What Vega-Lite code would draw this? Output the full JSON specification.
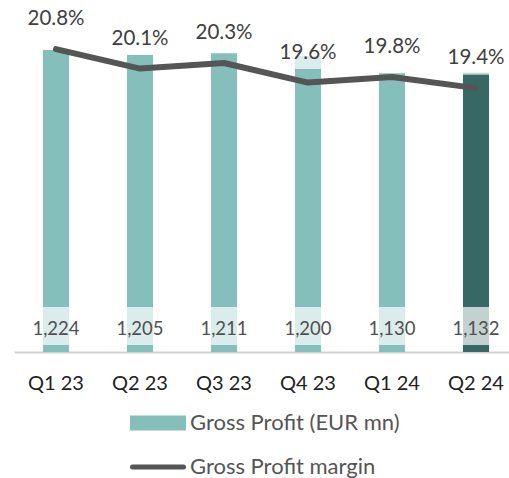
{
  "$schema": "https://vega.github.io/schema/vega-lite/v6.json",
  "width": 495,
  "height": 352,
  "autosize": {"type": "none"},
  "padding": {"left": 14, "top": 0, "right": 0, "bottom": 126},
  "config": {"view": {"stroke": null}, "font": "Lato"},
  "data": {"values": [
    {"q": "Q1 23", "gp": 1224, "margin": 0.208},
    {"q": "Q2 23", "gp": 1205, "margin": 0.201},
    {"q": "Q3 23", "gp": 1211, "margin": 0.203},
    {"q": "Q4 23", "gp": 1200, "margin": 0.196},
    {"q": "Q1 24", "gp": 1130, "margin": 0.198},
    {"q": "Q2 24", "gp": 1132, "margin": 0.194}
  ]},
  "encoding": {
    "x": {
      "field": "q", "type": "nominal", "sort": null,
      "scale": {"range": [0, 504], "paddingInner": 0, "paddingOuter": 0},
      "axis": {"title": null, "ticks": false, "labelAngle": 0, "labelFontSize": 20, "labelColor": "#222222", "labelPadding": 21, "domainColor": "#d3d3d3", "domainWidth": 2, "grid": false}
    }
  },
  "layer": [
    {
      "layer": [
        {
          "mark": {"type": "bar", "width": 26},
          "encoding": {
            "y": {"field": "gp", "type": "quantitative", "scale": {"domain": [0, 1427], "nice": false}, "axis": null},
            "color": {
              "datum": "Gross Profit (EUR mn)",
              "scale": {"domain": ["Gross Profit (EUR mn)", "Gross Profit margin"], "range": ["#84bfbb", "#555555"]},
              "condition": {"test": "datum.q === 'Q2 24'", "value": "#376866"},
              "legend": {
                "title": null, "orient": "none", "legendX": 116, "legendY": 395, "direction": "vertical",
                "labelFontSize": 22, "labelColor": "#555555", "labelFont": "Lato", "labelOffset": 4, "labelLimit": 0,
                "symbolSize": 2601, "rowPadding": -9,
                "encode": {
                  "symbols": {"update": {
                    "shape": {"signal": "datum.label === 'Gross Profit margin' ? 'M-1,0H1' : 'M-1,-0.2H1V0.2H-1Z'"},
                    "fill": {"signal": "datum.label === 'Gross Profit margin' ? 'transparent' : '#84bfbb'"},
                    "stroke": {"signal": "datum.label === 'Gross Profit margin' ? '#555555' : 'transparent'"},
                    "strokeWidth": {"value": 5},
                    "strokeCap": {"value": "round"},
                    "opacity": {"value": 1}
                  }}
                }
              }
            }
          }
        },
        {
          "mark": {"type": "bar", "width": 26, "color": "white", "opacity": 0.7},
          "encoding": {
            "y": {"datum": 182, "type": "quantitative"},
            "y2": {"datum": 28}
          }
        },
        {
          "mark": {"type": "text", "fontSize": 18.5, "color": "#505050", "baseline": "middle"},
          "encoding": {
            "y": {"datum": 93, "type": "quantitative"},
            "text": {"field": "gp", "type": "quantitative", "format": ","}
          }
        }
      ]
    },
    {
      "layer": [
        {
          "mark": {"type": "bar", "width": 34, "color": "white", "opacity": 0.7, "yOffset": -13.5, "y2Offset": -47},
          "encoding": {
            "y": {"field": "margin", "type": "quantitative", "scale": {"domain": [0.0994, 0.2256], "nice": false, "zero": false}, "axis": null},
            "y2": {"field": "margin"}
          }
        },
        {
          "mark": {"type": "line", "strokeWidth": 6, "strokeCap": "round", "strokeJoin": "round"},
          "encoding": {
            "y": {"field": "margin", "type": "quantitative"},
            "color": {"datum": "Gross Profit margin"}
          }
        },
        {
          "mark": {"type": "text", "fontSize": 20.5, "color": "#404040", "baseline": "middle", "dy": -30},
          "encoding": {
            "y": {"field": "margin", "type": "quantitative"},
            "text": {"field": "margin", "type": "quantitative", "format": ".1%"}
          }
        }
      ]
    }
  ],
  "resolve": {"scale": {"y": "independent"}}
}
